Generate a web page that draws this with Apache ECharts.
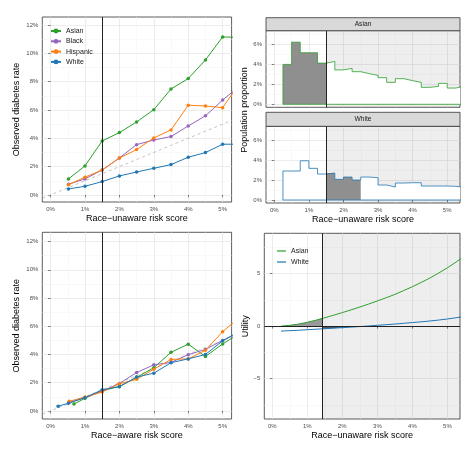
<!DOCTYPE html>
<html><head><meta charset="utf-8">
<script src="https://cdn.jsdelivr.net/npm/echarts@6/dist/echarts.min.js"></script>
<style>html,body{margin:0;padding:0;background:#fff}#c{width:474px;height:452px}</style>
</head><body><div id="c"></div>
<script>
// ---------- data ----------
const races = ['Asian', 'Black', 'Hispanic', 'White'];
const threshold = 1.5;
const utilThreshold = 1.43;

// Top-left: observed rate vs race-unaware score
const unawareX = [0.52, 1, 1.5, 2, 2.5, 3, 3.5, 4, 4.5, 5, 5.5];
const unawareAsian = [1.13, 2.05, 3.81, 4.4, 5.15, 6.02, 7.48, 8.21, 9.53, 11.15, 11.12];
const unawareBlack = [0.75, 1.13, 1.76, 2.61, 3.55, 3.88, 4.12, 4.87, 5.58, 6.7, 7.7];
const unawareHispanic = [0.72, 1.25, 1.76, 2.6, 3.2, 4.02, 4.59, 6.33, 6.28, 6.16, 7.9];
const unawareWhite = [0.42, 0.61, 0.94, 1.34, 1.62, 1.88, 2.14, 2.66, 2.99, 3.58, 3.58];

// Bottom-left: observed rate vs race-aware score
const awareXAsian = [0.68, 1, 1.5, 2, 2.5, 3, 3.5, 4, 4.5, 5, 5.5];
const awareAsian = [0.49, 0.9, 1.44, 1.74, 2.38, 3.06, 4.16, 4.73, 3.86, 4.75, 5.5];
const awareXBlack = [0.54, 1, 1.5, 2, 2.5, 3, 3.5, 4, 4.5, 5, 5.5];
const awareBlack = [0.61, 0.95, 1.4, 1.95, 2.72, 3.27, 3.44, 3.99, 4.36, 5.0, 5.55];
const awareXHispanic = [0.54, 1, 1.5, 2, 2.5, 3, 3.5, 4, 4.5, 5, 5.5];
const awareHispanic = [0.68, 0.99, 1.34, 1.93, 2.24, 2.96, 3.65, 3.69, 4.3, 5.62, 6.65];
const awareXWhite = [0.22, 0.52, 1, 1.5, 2, 2.5, 3, 3.5, 4, 4.5, 5, 5.5];
const awareWhite = [0.34, 0.54, 0.94, 1.5, 1.72, 2.4, 2.68, 3.42, 3.69, 4.0, 4.97, 5.67];

// Top-right: population proportion histograms (bin edges, values per bin)
const histEdges = [0.25, 0.5, 0.75, 1, 1.25, 1.5, 1.75, 2, 2.25, 2.5, 2.75, 3, 3.25, 3.5, 3.75, 4, 4.25, 4.5, 4.75, 5, 5.25, 5.5];
const histAsian = [4.0, 6.23, 5.17, 5.17, 4.13, 4.3, 3.45, 3.6, 3.27, 3.07, 2.9, 2.67, 2.2, 2.57, 2.37, 2.2, 1.7, 1.8, 2.1, 1.63, 1.83];
const histWhite = [2.9, 2.9, 3.93, 3.17, 2.6, 2.7, 2.07, 2.3, 2.0, 2.3, 2.23, 1.5, 1.3, 1.7, 1.73, 1.73, 1.4, 1.4, 1.4, 1.37, 1.27];
const fillRangeAsian = [0.25, 1.5];
const fillRangeWhite = [1.5, 2.5];

// Bottom-right: utility curves
const utilX = [0.25, 0.5, 0.75, 1, 1.25, 1.5, 1.75, 2, 2.25, 2.5, 2.75, 3, 3.25, 3.5, 3.75, 4, 4.25, 4.5, 4.75, 5, 5.25, 5.5];
const utilAsian = [0, 0.08, 0.2, 0.37, 0.57, 0.8, 1.04, 1.29, 1.55, 1.82, 2.1, 2.4, 2.7, 3.02, 3.38, 3.75, 4.15, 4.58, 5.05, 5.55, 6.1, 6.7];
const utilWhite = [-0.47, -0.43, -0.39, -0.34, -0.29, -0.24, -0.19, -0.14, -0.09, -0.04, 0.02, 0.08, 0.14, 0.2, 0.27, 0.34, 0.41, 0.49, 0.58, 0.68, 0.8, 0.93];
const utilAsianAtThreshold = 0.79;
const utilWhiteAtThreshold = -0.25;
const utilWhiteZeroCross = 2.65;

// ticks
const xTicks = [0, 1, 2, 3, 4, 5];
const xMinor = [0.5, 1.5, 2.5, 3.5, 4.5];
const rateTicks = [0, 2, 4, 6, 8, 10, 12];
const rateMinor = [1, 3, 5, 7, 9, 11];
const propTicks = [0, 2, 4, 6];
const propMinor = [1, 3, 5, 7];
const utilTicks = [-5, 0, 5];
const utilMinor = [-7.5, -2.5, 2.5, 7.5];

// ---------- styling ----------
const FONT = 'Liberation Sans, Arial, Helvetica, sans-serif';
const raceColor = { Asian: '#2ca02c', Black: '#9467bd', Hispanic: '#ff7f0e', White: '#1f77b4' };
const pct = v => v + '%';
const num = v => v < 0 ? '\u2212' + Math.abs(v) : String(v);

const zip = (xs, ys) => xs.map((x, i) => [x, ys[i]]);

const grids = [
  { left: 42.3, top: 17, width: 189.3, height: 185 },   // 0 TL
  { left: 266, top: 30.7, width: 194, height: 76.6 },   // 1 TR Asian
  { left: 266, top: 126.3, width: 194, height: 76.7 },  // 2 TR White
  { left: 42.3, top: 232.3, width: 189.3, height: 186.7 }, // 3 BL
  { left: 264.3, top: 233.3, width: 195.7, height: 185.7 } // 4 BR
].map(g => Object.assign({ show: true, borderColor: '#333', borderWidth: 0.8, backgroundColor: 'transparent', containLabel: false }, g));

const xRanges = [[-0.24, 5.26], [-0.24, 5.37], [-0.24, 5.37], [-0.24, 5.26], [-0.23, 5.36]];
const yRanges = [[-0.5, 12.56], [-0.3, 7.38], [-0.3, 7.38], [-0.57, 12.66], [-8.83, 8.83]];

function axes(dim, gi, range, major, minor, o) {
  const main = {
    type: 'value', gridIndex: gi, min: range[0], max: range[1],
    position: dim === 'x' ? 'bottom' : 'left',
    axisLine: { show: false },
    axisTick: { show: o.ticks !== false, length: 2.5, lineStyle: { color: '#333', width: 0.6 }, customValues: major },
    axisLabel: { show: o.labels !== false, customValues: major, formatter: o.fmt, fontSize: 6, color: '#4d4d4d', margin: 4, fontFamily: FONT },
    splitLine: { show: true, lineStyle: { color: '#e4e4e4', width: 0.7 } },
    minorTick: { show: false }, minorSplitLine: { show: false }
  };
  if (o.name) {
    main.name = o.name; main.nameLocation = 'middle'; main.nameGap = o.gap;
    main.nameTextStyle = { fontSize: 9, color: '#000', fontFamily: FONT };
  }
  const mn = {
    type: 'value', gridIndex: gi, min: range[0], max: range[1],
    position: dim === 'x' ? 'bottom' : 'left',
    axisLine: { show: false },
    axisTick: { show: false, customValues: minor },
    axisLabel: { show: false },
    splitLine: { show: true, lineStyle: { color: '#f2f2f2', width: 0.5 } }
  };
  return [main, mn];
}

const xAxis = [].concat(
  axes('x', 0, xRanges[0], xTicks, xMinor, { fmt: pct, name: 'Race\u2212unaware risk score', gap: 12.5 }),
  axes('x', 1, xRanges[1], xTicks, xMinor, { fmt: pct, ticks: false, labels: false }),
  axes('x', 2, xRanges[2], xTicks, xMinor, { fmt: pct, name: 'Race\u2212unaware risk score', gap: 12.5 }),
  axes('x', 3, xRanges[3], xTicks, xMinor, { fmt: pct, name: 'Race\u2212aware risk score', gap: 12.5 }),
  axes('x', 4, xRanges[4], xTicks, xMinor, { fmt: pct, name: 'Race\u2212unaware risk score', gap: 12.5 })
);
const yAxis = [].concat(
  axes('y', 0, yRanges[0], rateTicks, rateMinor, { fmt: pct, name: 'Observed diabetes rate', gap: 21 }),
  axes('y', 1, yRanges[1], propTicks, propMinor, { fmt: pct }),
  axes('y', 2, yRanges[2], propTicks, propMinor, { fmt: pct }),
  axes('y', 3, yRanges[3], rateTicks, rateMinor, { fmt: pct, name: 'Observed diabetes rate', gap: 21 }),
  axes('y', 4, yRanges[4], utilTicks, utilMinor, { fmt: num, name: 'Utility', gap: 14 })
);

const ax = gi => ({ xAxisIndex: 2 * gi, yAxisIndex: 2 * gi });
const vline = (x, extra) => ({
  silent: true, symbol: ['none', 'none'], label: { show: false },
  lineStyle: { color: '#222', width: 1, type: 'solid' },
  data: [{ xAxis: x }].concat(extra || []), z: 6
});
const shade = (gi, x) => ({
  silent: true, itemStyle: { color: 'rgba(0,0,0,0.065)' },
  data: [[{ xAxis: x }, { xAxis: xRanges[gi][1] }]]
});

const series = [];

// ---- TL ----
series.push(Object.assign({
  type: 'line', name: 'identity-tl', silent: true, symbol: 'none', z: 2,
  data: [[xRanges[0][0], xRanges[0][0]], [xRanges[0][1], xRanges[0][1]]],
  lineStyle: { color: '#b5b5b5', width: 0.8, type: [3, 3] },
  markLine: vline(threshold)
}, ax(0)));
const tlData = { Asian: unawareAsian, Black: unawareBlack, Hispanic: unawareHispanic, White: unawareWhite };
races.forEach(r => series.push(Object.assign({
  type: 'line', name: r, data: zip(unawareX, tlData[r]), color: raceColor[r],
  symbol: 'circle', symbolSize: 3.5, showSymbol: true, lineStyle: { width: 1 }, z: 3
}, ax(0))));

// ---- BL ----
series.push(Object.assign({
  type: 'line', name: 'identity-bl', silent: true, symbol: 'none', z: 2,
  data: [[xRanges[3][0], xRanges[3][0]], [xRanges[3][1], xRanges[3][1]]],
  lineStyle: { color: '#b5b5b5', width: 0.8, type: [3, 3] },
  markLine: vline(threshold)
}, ax(3)));
const blX = { Asian: awareXAsian, Black: awareXBlack, Hispanic: awareXHispanic, White: awareXWhite };
const blY = { Asian: awareAsian, Black: awareBlack, Hispanic: awareHispanic, White: awareWhite };
races.forEach(r => series.push(Object.assign({
  type: 'line', name: 'aware-' + r, data: zip(blX[r], blY[r]), color: raceColor[r],
  symbol: 'circle', symbolSize: 3.5, showSymbol: true, lineStyle: { width: 1 }, z: 3
}, ax(3))));

// ---- TR histograms ----
function binPoints(vals, lo, hi) {
  const pts = [];
  let last = -1;
  for (let i = 0; i < vals.length; i++) {
    if (histEdges[i] >= lo - 1e-9 && histEdges[i + 1] <= hi + 1e-9) { pts.push([histEdges[i], vals[i]]); last = i; }
  }
  if (last >= 0) pts.push([histEdges[last + 1], vals[last]]);
  return pts;
}
function outline(vals) {
  const n = histEdges.length - 1;
  return [[histEdges[0], 0]].concat(binPoints(vals, histEdges[0], histEdges[n]), [[histEdges[n], 0], [histEdges[0], 0]]);
}
[[1, 'Asian', histAsian, fillRangeAsian], [2, 'White', histWhite, fillRangeWhite]].forEach(([gi, r, vals, fr]) => {
  series.push(Object.assign({
    type: 'line', name: 'hfill-' + r, step: 'end', symbol: 'none', silent: true, z: 2,
    data: outline(vals), lineStyle: { width: 0 }, areaStyle: { color: '#ffffff', opacity: 1 },
    markArea: shade(gi, threshold)
  }, ax(gi)));
  series.push(Object.assign({
    type: 'line', name: 'hgrey-' + r, step: 'end', symbol: 'none', silent: true, z: 3,
    data: binPoints(vals, fr[0], fr[1]), lineStyle: { width: 0 }, areaStyle: { color: '#8f8f8f', opacity: 1 }
  }, ax(gi)));
  series.push(Object.assign({
    type: 'line', name: 'hline-' + r, step: 'end', symbol: 'none', silent: true, z: 4,
    data: outline(vals), lineStyle: { width: 0.8, color: raceColor[r] },
    markLine: vline(threshold)
  }, ax(gi)));
});

// ---- BR utility ----
const asianFill = zip(utilX, utilAsian).filter(p => p[0] < utilThreshold).concat([[utilThreshold, utilAsianAtThreshold]]);
const whiteFill = [[utilThreshold, utilWhiteAtThreshold]].concat(zip(utilX, utilWhite).filter(p => p[0] > utilThreshold && p[0] < utilWhiteZeroCross && p[1] < 0), [[utilWhiteZeroCross, 0]]);
series.push(Object.assign({
  type: 'line', name: 'ufill-Asian', symbol: 'none', silent: true, z: 2,
  data: asianFill, lineStyle: { width: 0 }, areaStyle: { color: '#9a9a9a', opacity: 1 },
  markArea: shade(4, utilThreshold)
}, ax(4)));
series.push(Object.assign({
  type: 'line', name: 'ufill-White', symbol: 'none', silent: true, z: 2,
  data: whiteFill, lineStyle: { width: 0 }, areaStyle: { color: '#555555', opacity: 1 }
}, ax(4)));
series.push(Object.assign({
  type: 'line', name: 'u-Asian', symbol: 'none', z: 4, color: raceColor.Asian,
  data: zip(utilX, utilAsian), lineStyle: { width: 1 },
  markLine: vline(utilThreshold, [{ yAxis: 0 }])
}, ax(4)));
series.push(Object.assign({
  type: 'line', name: 'u-White', symbol: 'none', z: 4, color: raceColor.White,
  data: zip(utilX, utilWhite), lineStyle: { width: 1 }
}, ax(4)));

const option = {
  animation: false,
  textStyle: { fontFamily: FONT },
  grid: grids,
  xAxis: xAxis,
  yAxis: yAxis,
  legend: [
    {
      data: races, orient: 'vertical', left: 50, top: 27.5, padding: 0,
      itemWidth: 10, itemHeight: 6, itemGap: 3.3, selectedMode: false,
      textStyle: { fontSize: 7, color: '#1a1a1a', lineHeight: 7, fontFamily: FONT }
    },
    {
      data: ['u-Asian', 'u-White'], orient: 'vertical', left: 277, top: 247.5, padding: 0,
      icon: 'rect', itemWidth: 9, itemHeight: 1.2, itemGap: 4, selectedMode: false,
      formatter: n => n.replace('u-', ''),
      textStyle: { fontSize: 7, color: '#1a1a1a', lineHeight: 7, fontFamily: FONT }
    }
  ],
  graphic: [
    { type: 'rect', shape: { x: 266, y: 17.7, width: 194, height: 13 }, style: { fill: '#d9d9d9', stroke: '#333', lineWidth: 0.8 }, z: 10 },
    { type: 'text', x: 363, y: 24.3, style: { text: 'Asian', fontSize: 6.7, fill: '#1a1a1a', align: 'center', verticalAlign: 'middle', fontFamily: FONT }, z: 11 },
    { type: 'rect', shape: { x: 266, y: 112.3, width: 194, height: 14 }, style: { fill: '#d9d9d9', stroke: '#333', lineWidth: 0.8 }, z: 10 },
    { type: 'text', x: 363, y: 119.3, style: { text: 'White', fontSize: 6.7, fill: '#1a1a1a', align: 'center', verticalAlign: 'middle', fontFamily: FONT }, z: 11 },
    { type: 'text', x: 245, y: 110, rotation: Math.PI / 2, style: { text: 'Population proportion', fontSize: 9, fill: '#000', align: 'center', verticalAlign: 'middle', fontFamily: FONT }, z: 11 }
  ],
  series: series
};

const chart = echarts.init(document.getElementById('c'), null, { renderer: 'canvas' });
chart.setOption(option);
</script>
</body></html>
